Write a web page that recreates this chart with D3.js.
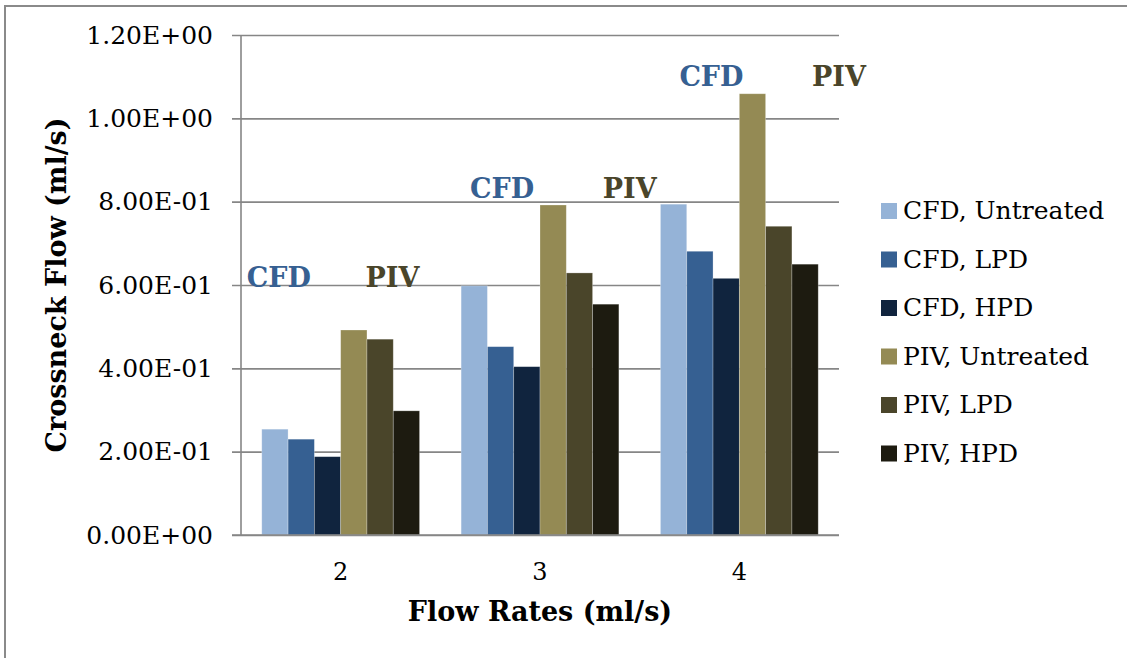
<!DOCTYPE html>
<html>
<head>
<meta charset="utf-8">
<script src="https://cdn.jsdelivr.net/npm/d3@7"></script>
<style>
    body { margin: 0; background: #fff; }
    text { font-family: "DejaVu Serif", Georgia, serif; }
</style>
</head>
<body>
<div id="chart"></div>
<script>
    var categories = ["2", "3", "4"];
    var series = ["CFD, Untreated", "CFD, LPD", "CFD, HPD", "PIV, Untreated", "PIV, LPD", "PIV, HPD"];
    var values = [
        [0.254, 0.598, 0.794],
        [0.230, 0.452, 0.681],
        [0.188, 0.404, 0.616],
        [0.492, 0.792, 1.059],
        [0.470, 0.629, 0.741],
        [0.298, 0.554, 0.650]
    ];
    var yTicks = [0, 0.2, 0.4, 0.6, 0.8, 1.0, 1.2];
    // text boxes placed over each group: label, category, height in data units, place in group (0..1)
    var notes = [
        {label: "CFD", cat: "2", v: 0.595, at: 0.19},
        {label: "PIV", cat: "2", v: 0.595, at: 0.76},
        {label: "CFD", cat: "3", v: 0.808, at: 0.31},
        {label: "PIV", cat: "3", v: 0.808, at: 0.95},
        {label: "CFD", cat: "4", v: 1.078, at: 0.36},
        {label: "PIV", cat: "4", v: 1.078, at: 1.0}
    ];

(function() {
    var colors = ["#95b3d7", "#366092", "#10243e", "#948a54", "#4a452a", "#1d1b10"];
    var noteColor = {CFD: "#366092", PIV: "#4a452a"};

    var width = 1127, height = 658;
    var pl = 241, pr = 839, pt = 35, pb = 535;

    var svg = d3.select("#chart")
        .append("svg")
        .attr("width", width)
        .attr("height", height);

    // outer frame, only top and left edges show
    svg.append("path")
        .attr("d", "M5," + height + "V6H" + width)
        .attr("fill", "none")
        .attr("stroke", "#8a8a8a")
        .attr("stroke-width", 2);

    var x0 = d3.scaleBand().domain(categories).range([pl, pr]);
    var x1 = d3.scaleBand().domain(d3.range(series.length))
        .range([0, x0.bandwidth()])
        .paddingOuter(0.79);
    var y = d3.scaleLinear().domain([0, 1.2]).range([pb, pt]);

    // gridlines + y axis
    var yAxis = d3.axisLeft(y)
        .tickValues(yTicks)
        .tickSize(-(pr - pl))
        .tickPadding(28)
        .tickFormat(function(d) {
            return d3.format(".2e")(d).replace("e", "E").replace(/E([+-])(\d)$/, "E$10$2");
        });
    var gy = svg.append("g")
        .attr("transform", "translate(" + pl + ",0)")
        .call(yAxis);
    gy.select(".domain").remove();
    gy.selectAll(".tick line")
        .attr("x1", -9)
        .attr("stroke", "#868686")
        .attr("stroke-width", 1.6);
    gy.selectAll(".tick text")
        .attr("font-size", 25)
        .attr("fill", "#000")
        .attr("font-family", "DejaVu Serif");

    svg.append("line")
        .attr("x1", pl).attr("x2", pl)
        .attr("y1", pt).attr("y2", pb)
        .attr("stroke", "#868686")
        .attr("stroke-width", 1.6);

    // bars
    var groups = svg.selectAll(".grp")
        .data(categories)
        .enter()
        .append("g")
        .attr("class", "grp")
        .attr("transform", function(d) {
            return "translate(" + x0(d) + ",0)";
        });
    groups.selectAll("rect")
        .data(function(d, ci) {
            return series.map(function(s, si) {
                return {si: si, v: values[si][ci]};
            });
        })
        .enter()
        .append("rect")
        .attr("x", function(d) { return x1(d.si); })
        .attr("width", x1.bandwidth())
        .attr("y", function(d) { return y(d.v); })
        .attr("height", function(d) { return pb - y(d.v); })
        .attr("fill", function(d) { return colors[d.si]; })
        .attr("stroke", "rgba(255,255,255,0.35)")
        .attr("stroke-width", 0.75);

    // baseline redrawn on top
    svg.append("line")
        .attr("x1", pl - 9).attr("x2", pr)
        .attr("y1", pb).attr("y2", pb)
        .attr("stroke", "#868686")
        .attr("stroke-width", 1.6);

    // x labels
    svg.selectAll(".xlab")
        .data(categories)
        .enter()
        .append("text")
        .attr("class", "xlab")
        .attr("x", function(d) { return x0(d) + x0.bandwidth() / 2; })
        .attr("y", 580)
        .attr("text-anchor", "middle")
        .attr("font-size", 24)
        .text(function(d) { return d; });

    // CFD / PIV text boxes
    svg.selectAll(".note")
        .data(notes)
        .enter()
        .append("text")
        .attr("class", "note")
        .attr("x", function(d) { return x0(d.cat) + d.at * x0.bandwidth(); })
        .attr("y", function(d) { return y(d.v); })
        .attr("text-anchor", "middle")
        .attr("font-size", 27)
        .attr("font-weight", "bold")
        .attr("fill", function(d) { return noteColor[d.label]; })
        .text(function(d) { return d.label; });

    // axis titles
    svg.append("text")
        .attr("x", (pl + pr) / 2)
        .attr("y", 621)
        .attr("text-anchor", "middle")
        .attr("font-size", 27)
        .attr("font-weight", "bold")
        .text("Flow Rates (ml/s)");
    svg.append("text")
        .attr("transform", "translate(66," + ((pt + pb) / 2) + ") rotate(-90)")
        .attr("text-anchor", "middle")
        .attr("font-size", 27)
        .attr("font-weight", "bold")
        .text("Crossneck Flow (ml/s)");

    // legend
    var legend = svg.selectAll(".leg")
        .data(series)
        .enter()
        .append("g")
        .attr("class", "leg")
        .attr("transform", function(d, i) {
            return "translate(881," + (203 + i * 48.5) + ")";
        });
    legend.append("rect")
        .attr("width", 16)
        .attr("height", 16)
        .attr("fill", function(d, i) { return colors[i]; });
    legend.append("text")
        .attr("x", 22)
        .attr("y", 16)
        .attr("font-size", 25)
        .text(function(d) { return d; });
})();
</script>
</body>
</html>
